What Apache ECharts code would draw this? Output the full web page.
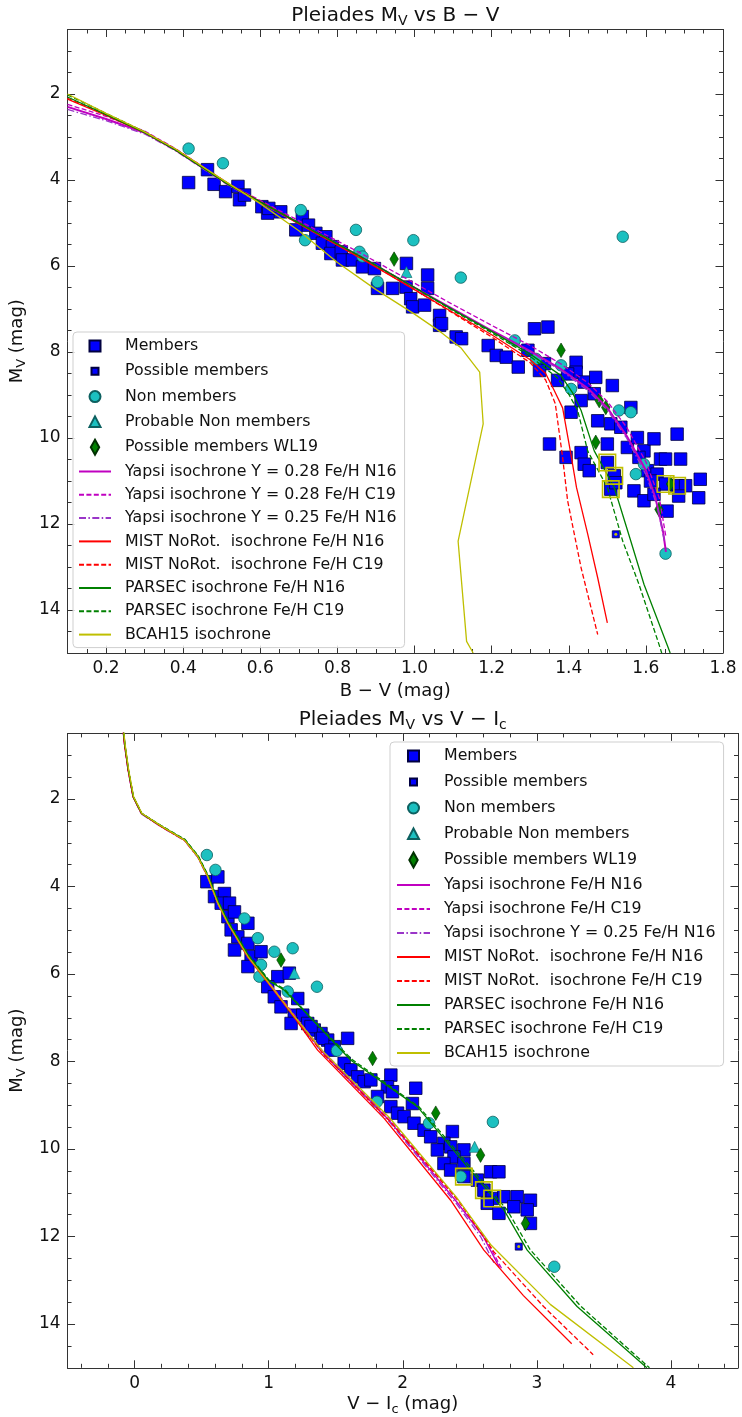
<!DOCTYPE html>
<html>
<head>
<meta charset="utf-8">
<title>Pleiades colour-magnitude diagrams</title>
<script src="https://cdn.jsdelivr.net/npm/echarts@6/dist/echarts.min.js"></script>
<style>
  html, body { margin: 0; padding: 0; background: #fff; }
  #chart { width: 742px; height: 1417px; }
</style>
</head>
<body>
<div id="chart"></div>
<script>
// ---------- tick values and labels ----------
const bvTicks = [0.2, 0.4, 0.6, 0.8, 1.0, 1.2, 1.4, 1.6, 1.8];
const bvTickLabels = ['0.2', '0.4', '0.6', '0.8', '1.0', '1.2', '1.4', '1.6', '1.8'];
const viTicks = [0, 1, 2, 3, 4];
const viTickLabels = ['0', '1', '2', '3', '4'];
const mvTicks = [2, 4, 6, 8, 10, 12, 14];
const mvTickLabels = ['2', '4', '6', '8', '10', '12', '14'];

// ---------- B-V vs Mv : stars [B-V, Mv] ----------
const bvMembers = [
  [0.414,4.06],[0.48,4.10],[0.463,3.76],[0.51,4.27],[0.542,4.15],[0.546,4.46],[0.559,4.35],[0.604,4.62],
  [0.619,4.77],[0.653,4.74],[0.622,4.66],[0.709,4.85],[0.725,5.05],[0.692,5.16],[0.744,5.24],[0.77,5.32],
  [0.761,5.47],[0.787,5.55],[0.783,5.71],[0.81,5.67],[0.813,5.86],[0.839,5.86],[0.865,6.02],[0.896,6.06],
  [0.904,6.52],[0.943,6.52],[0.979,5.94],[0.978,6.49],[0.99,6.76],[0.995,6.95],[1.034,6.21],[1.034,6.52],
  [1.026,6.91],[1.065,7.15],[1.065,7.38],[1.108,7.65],[1.07,7.34],[1.122,7.69],[1.191,7.85],[1.212,8.08],
  [1.238,8.12],[1.269,8.35],[1.311,7.46],[1.346,7.42],[1.294,7.96],[1.337,8.27],[1.324,8.43],[1.371,8.66],
  [1.419,8.24],[1.419,8.47],[1.397,8.51],[1.44,8.70],[1.47,8.59],[1.513,8.78],[1.406,9.40],[1.432,9.13],
  [1.466,8.97],[1.475,9.60],[1.509,9.67],[1.535,9.75],[1.561,9.29],[1.35,10.14],[1.5,10.14],[1.432,10.34],
  [1.393,10.45],[1.44,10.61],[1.453,10.76],[1.5,10.57],[1.518,10.88],[1.509,11.19],[1.522,11.04],[1.552,10.22],
  [1.578,9.99],[1.595,10.30],[1.621,10.02],[1.681,9.91],[1.582,10.45],[1.604,10.76],[1.638,10.49],[1.651,10.49],
  [1.69,10.49],[1.629,10.84],[1.612,11.0],[1.651,11.07],[1.681,11.11],[1.703,11.11],[1.741,10.96],[1.737,11.39],
  [1.685,11.35],[1.569,11.23],[1.595,11.46],[1.621,11.31],[1.655,11.70]
];
const bvPossible = [[1.522,12.24]];
const bvNonMembers = [
  [0.414,3.27],[0.503,3.61],[0.705,4.70],[0.716,5.40],[0.848,5.16],[0.857,5.67],[0.865,5.78],[0.904,6.37],
  [0.997,5.40],[1.12,6.27],[1.26,7.73],[1.315,8.16],[1.38,8.31],[1.406,8.86],[1.53,9.36],[1.561,9.40],
  [1.595,10.61],[1.574,10.84],[1.651,12.69],[1.54,5.32]
];
const bvProbableNon = [[0.979,6.14]];
const bvWL19 = [[0.947,5.84],[1.38,7.96],[1.479,9.13],[1.496,9.29],[1.47,10.10],[1.664,11.07],[1.634,11.66]];
const bvFlagged = [[1.5,10.57],[1.518,10.88],[1.509,11.19],[1.651,11.07],[1.681,11.11]];

// ---------- B-V isochrones [B-V, Mv] ----------
const bvYapsiN16 = [[0.1,2.3],[0.2,2.58],[0.3,2.9],[0.38,3.3],[0.52,4.12],[0.69,4.95],[0.86,5.78],[1.0,6.5],[1.1,7.0],[1.2,7.5],[1.3,7.98],[1.38,8.4],[1.45,8.85],[1.5,9.3],[1.55,9.95],[1.6,10.75],[1.625,11.4],[1.645,12.2],[1.652,12.65]];
const bvYapsiC19 = [[0.1,2.24],[0.2,2.52],[0.3,2.86],[0.38,3.27],[0.52,4.1],[0.69,4.9],[0.86,5.7],[1.0,6.4],[1.1,6.9],[1.2,7.38],[1.3,7.85],[1.38,8.28],[1.45,8.72],[1.5,9.15],[1.55,9.75],[1.6,10.55],[1.635,11.4],[1.652,12.3]];
const bvYapsiY25 = [[0.1,2.36],[0.2,2.62],[0.3,2.93],[0.38,3.32],[0.52,4.14],[0.69,4.97],[0.86,5.8],[1.0,6.52],[1.1,7.02],[1.2,7.52],[1.3,8.0],[1.38,8.43],[1.45,8.9],[1.5,9.35],[1.55,10.0],[1.6,10.85],[1.63,11.6],[1.648,12.4]];
const bvMistN16 = [[0.1,2.12],[0.2,2.5],[0.3,2.9],[0.38,3.3],[0.52,4.12],[0.69,4.97],[0.86,5.82],[1.0,6.55],[1.1,7.08],[1.2,7.6],[1.3,8.18],[1.34,8.5],[1.362,8.89],[1.384,9.3],[1.405,10.35],[1.42,11.15],[1.449,12.23],[1.475,13.25],[1.5,14.3]];
const bvMistC19 = [[0.1,2.1],[0.2,2.48],[0.3,2.88],[0.38,3.28],[0.52,4.1],[0.69,4.95],[0.86,5.8],[1.0,6.55],[1.1,7.1],[1.2,7.65],[1.3,8.25],[1.34,8.65],[1.365,9.2],[1.384,10.45],[1.397,11.46],[1.432,13.02],[1.475,14.57]];
const bvParsecN16 = [[0.1,2.07],[0.2,2.48],[0.3,2.9],[0.38,3.3],[0.52,4.12],[0.69,4.95],[0.86,5.78],[1.0,6.5],[1.1,7.02],[1.2,7.52],[1.3,8.05],[1.38,8.55],[1.41,8.95],[1.432,9.36],[1.466,10.3],[1.518,11.15],[1.561,12.4],[1.595,13.4],[1.655,14.81],[1.663,15.0]];
const bvParsecC19 = [[0.1,2.02],[0.2,2.45],[0.3,2.88],[0.38,3.3],[0.52,4.12],[0.69,4.95],[0.86,5.78],[1.0,6.5],[1.1,7.04],[1.2,7.55],[1.3,8.1],[1.37,8.6],[1.4,8.98],[1.423,9.36],[1.449,10.3],[1.5,11.15],[1.54,12.4],[1.582,13.4],[1.634,14.8],[1.641,15.0]];
const bvBcah15 = [[0.1,2.0],[0.2,2.45],[0.3,2.88],[0.38,3.28],[0.5,3.98],[0.6,4.55],[0.7,5.18],[0.8,5.92],[0.9,6.55],[1.0,7.12],[1.07,7.55],[1.12,7.9],[1.169,8.47],[1.178,9.67],[1.113,12.4],[1.135,14.73],[1.152,15.0]];

// ---------- V-Ic vs Mv : stars [V-Ic, Mv] ----------
const viMembers = [
  [0.539,3.89],[0.621,3.78],[0.596,4.23],[0.67,4.16],[0.646,4.38],[0.708,4.38],[0.696,4.69],[0.745,4.58],
  [0.845,4.84],[0.72,4.99],[0.77,5.15],[0.745,5.45],[0.845,5.30],[0.869,5.60],[0.943,5.49],[0.845,5.83],
  [1.068,6.06],[1.154,5.98],[0.993,6.29],[1.042,6.52],[1.217,6.56],[1.092,6.75],[1.191,6.94],[1.254,6.94],
  [1.291,7.13],[1.167,7.13],[1.34,7.28],[1.39,7.36],[1.44,7.51],[1.589,7.47],[1.489,7.66],[1.316,7.20],
  [1.402,7.47],[1.464,7.74],[1.563,8.04],[1.613,8.19],[1.663,8.35],[1.712,8.46],[1.762,8.42],[1.911,8.31],
  [1.886,8.58],[1.923,8.69],[2.097,8.61],[2.072,8.96],[1.812,8.80],[1.911,9.03],[1.961,9.18],[2.01,9.26],
  [2.084,9.41],[2.159,9.57],[2.208,9.72],[2.37,9.60],[2.307,9.87],[2.258,10.02],[2.357,9.95],[2.456,10.02],
  [2.382,10.18],[2.307,10.33],[2.456,10.33],[2.456,10.63],[2.655,10.52],[2.717,10.52],[2.357,10.48],[2.556,10.71],
  [2.605,10.94],[2.667,11.13],[2.63,11.24],[2.717,11.47],[2.754,11.09],[2.853,11.09],[2.952,11.17],[2.828,11.32],
  [2.928,11.39],[2.952,11.70]
];
const viPossible = [[2.865,12.23]];
const viNonMembers = [
  [0.539,3.28],[0.603,3.62],[0.819,4.73],[0.919,5.18],[1.179,5.41],[1.042,5.49],[0.943,5.79],[0.931,6.06],
  [1.142,6.40],[1.36,6.29],[1.509,7.75],[1.807,8.92],[2.196,9.41],[2.672,9.38],[2.432,10.63],[3.13,12.69]
];
const viProbableNon = [[1.191,5.98],[2.536,9.95]];
const viWL19 = [[1.092,5.68],[1.775,7.93],[2.246,9.18],[2.58,10.14],[2.915,11.70]];
const viFlagged = [[2.456,10.63],[2.605,10.94],[2.667,11.13]];

// ---------- V-Ic isochrones [V-Ic, Mv] ----------
const viYapsiN16 = [[-0.09,0.3],[-0.074,0.77],[-0.048,1.34],[-0.011,1.95],[0.051,2.33],[0.2,2.63],[0.373,2.94],[0.472,3.32],[0.547,3.78],[0.621,4.38],[0.696,4.84],[0.845,5.6],[1.0,6.2],[1.2,7.0],[1.4,7.78],[1.9,9.35],[2.4,11.2],[2.6,12.0],[2.72,12.7]];
const viYapsiC19 = [[-0.088,0.3],[-0.072,0.77],[-0.046,1.34],[-0.009,1.95],[0.053,2.33],[0.2,2.62],[0.373,2.93],[0.474,3.32],[0.549,3.78],[0.623,4.38],[0.698,4.84],[0.847,5.58],[1.0,6.18],[1.2,6.97],[1.4,7.75],[1.9,9.3],[2.42,11.2],[2.62,12.05],[2.74,12.75]];
const viYapsiY25 = [[-0.091,0.3],[-0.075,0.77],[-0.049,1.34],[-0.012,1.95],[0.05,2.34],[0.2,2.64],[0.372,2.95],[0.471,3.33],[0.546,3.79],[0.62,4.39],[0.695,4.85],[0.844,5.61],[1.0,6.22],[1.2,7.02],[1.4,7.8],[1.9,9.38],[2.4,11.25],[2.58,12.0],[2.68,12.6]];
const viMistN16 = [[-0.09,0.3],[-0.074,0.77],[-0.048,1.34],[-0.011,1.95],[0.051,2.33],[0.2,2.63],[0.373,2.94],[0.472,3.32],[0.547,3.78],[0.621,4.38],[0.696,4.84],[0.845,5.62],[1.0,6.22],[1.2,7.03],[1.365,7.74],[1.861,9.3],[2.357,11.17],[2.605,12.31],[2.9,13.35],[3.26,14.45]];
const viMistC19 = [[-0.089,0.3],[-0.073,0.77],[-0.047,1.34],[-0.01,1.95],[0.052,2.33],[0.2,2.63],[0.373,2.94],[0.473,3.32],[0.548,3.78],[0.622,4.38],[0.697,4.84],[0.846,5.6],[1.0,6.2],[1.2,7.0],[1.4,7.8],[1.9,9.35],[2.42,11.2],[2.68,12.35],[3.05,13.6],[3.42,14.7]];
const viParsecN16 = [[-0.088,0.3],[-0.072,0.77],[-0.046,1.34],[-0.009,1.95],[0.053,2.33],[0.2,2.62],[0.374,2.93],[0.474,3.31],[0.55,3.77],[0.625,4.36],[0.7,4.82],[0.85,5.58],[1.0,6.15],[1.117,6.37],[1.3,6.96],[1.613,7.97],[2.109,9.03],[2.481,10.4],[2.754,11.39],[2.928,12.31],[3.3,13.6],[3.82,15.0]];
const viParsecC19 = [[-0.087,0.3],[-0.071,0.77],[-0.045,1.34],[-0.008,1.95],[0.054,2.33],[0.2,2.61],[0.375,2.92],[0.475,3.3],[0.551,3.76],[0.626,4.35],[0.702,4.81],[0.852,5.57],[1.0,6.13],[1.12,6.35],[1.3,6.95],[1.62,7.95],[2.12,9.03],[2.5,10.4],[2.78,11.4],[2.95,12.3],[3.33,13.6],[3.84,15.0]];
const viBcah15 = [[-0.086,0.3],[-0.07,0.77],[-0.044,1.34],[-0.007,1.95],[0.055,2.33],[0.2,2.62],[0.373,2.94],[0.472,3.32],[0.547,3.78],[0.621,4.38],[0.696,4.84],[0.845,5.6],[1.0,6.2],[1.2,7.0],[1.4,7.75],[1.9,9.28],[2.4,11.1],[2.66,12.2],[3.1,13.55],[3.72,15.0]];

// ---------- styling ----------
const FONT = 'DejaVu Sans';
const INK = '#111';
const SPINE = '#333';
const BLUE = '#0000ff', CYAN = '#1cc0c0', GREEN = '#008000';
const MAGENTA = '#c000c0', VIOLET = '#9a35c8', RED = '#ff0000', OLIVE = '#bfbf00';
const DASH = [5, 2.4];
const DASHDOT = [7, 2.4, 1.5, 2.4];

function steps(a, b, step) {
  const out = [];
  const n = Math.round((b - a) / step);
  for (let i = 0; i <= n; i++) out.push(+(a + i * step).toFixed(4));
  return out;
}
function labelFor(ticks, labels) {
  return v => {
    const i = ticks.findIndex(t => Math.abs(t - v) < 1e-6);
    return i < 0 ? '' : labels[i];
  };
}
const bvMinor = steps(0.1, 1.8, 0.05);
const viMinor = steps(-0.4, 4.4, 0.2);
const mvMinor = steps(0.5, 15, 0.5);

const titleRich = {
  t: { fontFamily: FONT, fontSize: 20, color: INK, lineHeight: 26 },
  s: { fontFamily: FONT, fontSize: 14, color: INK, lineHeight: 14, verticalAlign: 'bottom' }
};
const nameRich = {
  t: { fontFamily: FONT, fontSize: 18, color: INK, lineHeight: 22 },
  s: { fontFamily: FONT, fontSize: 13, color: INK, lineHeight: 12, verticalAlign: 'bottom' }
};

// each spine = one axis for minor ticks + one for major ticks / labels
function spine(dim, grid, pos, min, max, major, minor, opt) {
  const base = {
    type: 'value', gridIndex: grid, position: pos, min: min, max: max,
    inverse: dim === 'y', splitLine: { show: false }, axisPointer: { show: false }
  };
  const minorAxis = Object.assign({}, base, {
    axisLine: { show: true, onZero: false, lineStyle: { color: SPINE, width: 1 } },
    axisTick: { show: true, inside: true, length: 4, customValues: minor, lineStyle: { color: SPINE, width: 1 } },
    axisLabel: { show: false }
  });
  const majorAxis = Object.assign({}, base, {
    axisLine: { show: false, onZero: false },
    axisTick: { show: true, inside: true, length: 7.5, customValues: major, lineStyle: { color: SPINE, width: 1 } },
    axisLabel: opt.labels ? {
      show: true, customValues: major, formatter: opt.labels,
      fontFamily: FONT, fontSize: 17, color: INK, margin: 7,
      showMinLabel: true, showMaxLabel: true
    } : { show: false }
  });
  if (opt.name) {
    majorAxis.name = opt.name;
    majorAxis.nameLocation = 'middle';
    majorAxis.nameGap = opt.nameGap;
    if (opt.nameRotate) majorAxis.nameRotate = opt.nameRotate;
    majorAxis.nameTextStyle = { fontFamily: FONT, color: INK, rich: opt.rich };
  }
  return [minorAxis, majorAxis];
}

const xAxes = [].concat(
  spine('x', 0, 'bottom', 0.1, 1.8, bvTicks, bvMinor, { labels: labelFor(bvTicks, bvTickLabels), name: '{t|B − V (mag)}', nameGap: 27, rich: nameRich }),
  spine('x', 0, 'top', 0.1, 1.8, bvTicks, bvMinor, { name: '{t|Pleiades M}{s|V}{t| vs B − V}', nameGap: 1, rich: titleRich }),
  spine('x', 1, 'bottom', -0.5, 4.5, viTicks, viMinor, { labels: labelFor(viTicks, viTickLabels), name: '{t|V − I}{s|c}{t| (mag)}', nameGap: 26, rich: nameRich }),
  spine('x', 1, 'top', -0.5, 4.5, viTicks, viMinor, { name: '{t|Pleiades M}{s|V}{t| vs V − I}{s|c}', nameGap: 1, rich: titleRich })
);
const yAxes = [].concat(
  spine('y', 0, 'left', 0.5, 15, mvTicks, mvMinor, { labels: labelFor(mvTicks, mvTickLabels), name: '{t|M}{s|V}{t| (mag)}', nameGap: 34, nameRotate: 90, rich: nameRich }),
  spine('y', 0, 'right', 0.5, 15, mvTicks, mvMinor, {}),
  spine('y', 1, 'left', 0.5, 15, mvTicks, mvMinor, { labels: labelFor(mvTicks, mvTickLabels), name: '{t|M}{s|V}{t| (mag)}', nameGap: 34, nameRotate: 90, rich: nameRich }),
  spine('y', 1, 'right', 0.5, 15, mvTicks, mvMinor, {})
);

// plotting axes: index 1 for the B-V panel, index 5 for the V-Ic panel
function axesOf(panel) { return panel === 0 ? { xAxisIndex: 1, yAxisIndex: 1 } : { xAxisIndex: 5, yAxisIndex: 5 }; }

function stars(name, data, panel, symbol, size, fill, edge, edgeWidth, z) {
  return Object.assign({
    type: 'scatter', name: name, data: data, symbol: symbol, symbolSize: size,
    itemStyle: { color: fill, borderColor: edge, borderWidth: edgeWidth, opacity: 1 },
    z: z || 2, silent: true, emphasis: { disabled: true }, animation: false
  }, axesOf(panel));
}
function iso(name, data, panel, color, dash, width) {
  return Object.assign({
    type: 'line', name: name, data: data, symbol: 'none', showSymbol: false,
    lineStyle: { color: color, width: width || 1.3, type: dash || 'solid' },
    itemStyle: { color: color }, z: 3, silent: true, emphasis: { disabled: true }, animation: false
  }, axesOf(panel));
}

const NAMES = {
  members: 'Members', possible: 'Possible members', non: 'Non members',
  probable: 'Probable Non members', wl19: 'Possible members WL19',
  mistN16: 'MIST NoRot.  isochrone Fe/H N16', mistC19: 'MIST NoRot.  isochrone Fe/H C19',
  parsecN16: 'PARSEC isochrone Fe/H N16', parsecC19: 'PARSEC isochrone Fe/H C19',
  bcah: 'BCAH15 isochrone', yapsiY25: 'Yapsi isochrone Y = 0.25 Fe/H N16'
};
const bvYapsiNames = ['Yapsi isochrone Y = 0.28 Fe/H N16', 'Yapsi isochrone Y = 0.28 Fe/H C19'];
const viYapsiNames = ['Yapsi isochrone Fe/H N16', 'Yapsi isochrone Fe/H C19'];

function panelSeries(panel, d, yapsiNames) {
  return [
    stars(NAMES.members, d.members, panel, 'rect', 12.5, BLUE, '#000040', 0.8),
    stars(NAMES.possible, d.possible, panel, 'rect', 7, BLUE, '#000040', 0.8),
    stars('dot', d.possible, panel, 'circle', 3, OLIVE, OLIVE, 0, 4),
    stars(NAMES.non, d.non, panel, 'circle', 11.5, CYAN, '#0d6060', 0.8),
    stars(NAMES.probable, d.probable, panel, 'triangle', 11, CYAN, '#0d6060', 0.6),
    stars(NAMES.wl19, d.wl19, panel, 'diamond', [8.5, 14.5], GREEN, '#003000', 0.6),
    stars('flag', d.flagged, panel, 'rect', 16.5, 'rgba(0,0,0,0)', OLIVE, 1.6, 4),
    iso(yapsiNames[0], d.yapsiN16, panel, MAGENTA, 'solid', panel === 0 ? 2.0 : 1.4),
    iso(yapsiNames[1], d.yapsiC19, panel, MAGENTA, DASH),
    iso(NAMES.yapsiY25, d.yapsiY25, panel, VIOLET, DASHDOT),
    iso(NAMES.mistN16, d.mistN16, panel, RED, 'solid'),
    iso(NAMES.mistC19, d.mistC19, panel, RED, DASH),
    iso(NAMES.parsecN16, d.parsecN16, panel, GREEN, 'solid'),
    iso(NAMES.parsecC19, d.parsecC19, panel, GREEN, DASH),
    iso(NAMES.bcah, d.bcah, panel, OLIVE, 'solid')
  ];
}

const series = [].concat(
  panelSeries(0, {
    members: bvMembers, possible: bvPossible, non: bvNonMembers, probable: bvProbableNon, wl19: bvWL19, flagged: bvFlagged,
    yapsiN16: bvYapsiN16, yapsiC19: bvYapsiC19, yapsiY25: bvYapsiY25, mistN16: bvMistN16, mistC19: bvMistC19,
    parsecN16: bvParsecN16, parsecC19: bvParsecC19, bcah: bvBcah15
  }, bvYapsiNames),
  panelSeries(1, {
    members: viMembers, possible: viPossible, non: viNonMembers, probable: viProbableNon, wl19: viWL19, flagged: viFlagged,
    yapsiN16: viYapsiN16, yapsiC19: viYapsiC19, yapsiY25: viYapsiY25, mistN16: viMistN16, mistC19: viMistC19,
    parsecN16: viParsecN16, parsecC19: viParsecC19, bcah: viBcah15
  }, viYapsiNames)
);

// legend markers drawn inside a 16x16 box so they keep their own size
const ICON = {
  members: 'path://M0,0M16,16M2.5,2.5h11v11h-11z',
  possible: 'path://M0,0M16,16M4.5,4.5h7v7h-7z',
  non: 'path://M0,0M16,16M2.5,8a5.5,5.5 0 1 0 11,0a5.5,5.5 0 1 0 -11,0z',
  probable: 'path://M0,0M16,16M8,2.5L13.5,13L2.5,13z',
  wl19: 'path://M0,0M16,16M8,0.5L12.2,8L8,15.5L3.8,8z'
};
// line entries show only the line sample, no marker
const NO_MARKER = { color: 'rgba(0,0,0,0)', borderColor: 'rgba(0,0,0,0)', borderWidth: 0 };
function legendItems(yapsiNames) {
  const lineNames = [yapsiNames[0], yapsiNames[1], NAMES.yapsiY25, NAMES.mistN16, NAMES.mistC19,
    NAMES.parsecN16, NAMES.parsecC19, NAMES.bcah];
  return [
    { name: NAMES.members, icon: ICON.members },
    { name: NAMES.possible, icon: ICON.possible },
    { name: NAMES.non, icon: ICON.non },
    { name: NAMES.probable, icon: ICON.probable },
    { name: NAMES.wl19, icon: ICON.wl19 }
  ].concat(lineNames.map(n => ({ name: n, itemStyle: NO_MARKER })));
}
function legendBox(items, left, top, itemWidth, gap, padLeft) {
  return {
    data: items, left: left, top: top, orient: 'vertical',
    itemWidth: itemWidth, itemHeight: 16, itemGap: gap,
    padding: [5, 8, 5, padLeft],
    backgroundColor: 'rgba(255,255,255,0.85)', borderColor: '#cfcfcf', borderWidth: 1, borderRadius: 4,
    textStyle: { fontFamily: FONT, fontSize: 15.8, color: INK, lineHeight: 16, padding: [0, 0, 0, 9] },
    selectedMode: false, z: 10
  };
}

const option = {
  animation: false,
  backgroundColor: '#ffffff',
  textStyle: { fontFamily: FONT },
  grid: [
    { left: 64.25, top: 29.5, width: 658.75, height: 623.5, containLabel: false },
    { left: 66, top: 733.4, width: 672, height: 634.4, containLabel: false }
  ],
  xAxis: xAxes,
  yAxis: yAxes,
  legend: [
    legendBox(legendItems(bvYapsiNames), 73, 332, 32, 7.3, 5),
    legendBox(legendItems(viYapsiNames), 390, 742, 33, 8.0, 6)
  ],
  series: series
};

const chart = echarts.init(document.getElementById('chart'), null, { renderer: 'canvas' });
chart.setOption(option);
</script>
</body>
</html>
